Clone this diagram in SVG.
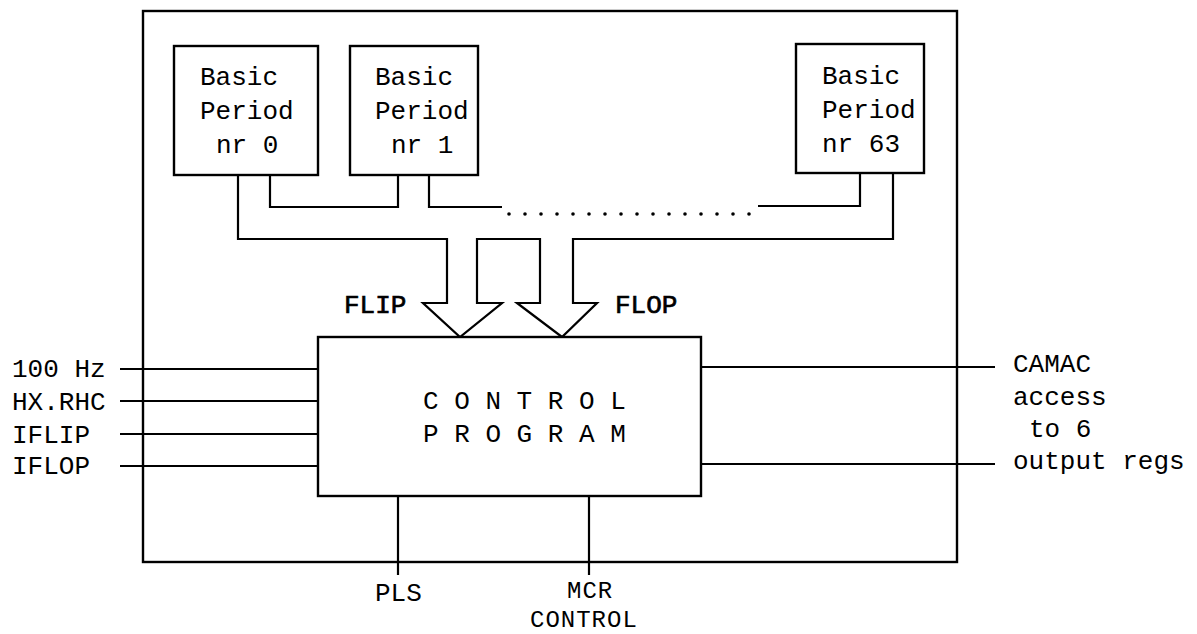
<svg xmlns="http://www.w3.org/2000/svg" width="1197" height="634" viewBox="0 0 1197 634">
<style>
.ln{fill:none;stroke:#000;stroke-width:2.2;stroke-linejoin:miter}
.bx{fill:#fff;stroke:#000;stroke-width:2.4}
text{font-family:"Liberation Mono","DejaVu Sans Mono",monospace;font-size:26px;fill:#000}
.b{stroke:#000;stroke-width:0.7}
.s{font-size:24px;letter-spacing:1px}
</style>
<rect width="1197" height="634" fill="#fff"/>
<g id="outer"><rect class="bx" x="143" y="11" width="814" height="551" fill="none"/></g>
<g id="connectors">
<path class="ln" d="M238,175 V239 H447 V303 H423 L460,337 L502,303 H477 V239 H540 V303 H517 L562,337 L597,303 H573 V239 H893 V173"/>
<path class="ln" d="M270,175 V207 H398 V175"/>
<path class="ln" d="M429,175 V207 H502"/>
<path class="ln" d="M758,206 H860 V173"/>
<g fill="#000">
<circle cx="509" cy="214" r="1.8"/><circle cx="525" cy="214" r="1.8"/><circle cx="541" cy="214" r="1.8"/><circle cx="557" cy="214" r="1.8"/><circle cx="573" cy="214" r="1.8"/><circle cx="589" cy="214" r="1.8"/><circle cx="605" cy="214" r="1.8"/><circle cx="621" cy="214" r="1.8"/><circle cx="637" cy="214" r="1.8"/><circle cx="653" cy="214" r="1.8"/><circle cx="669" cy="214" r="1.8"/><circle cx="685" cy="214" r="1.8"/><circle cx="701" cy="214" r="1.8"/><circle cx="717" cy="214" r="1.8"/><circle cx="733" cy="214" r="1.8"/><circle cx="749" cy="214" r="1.8"/>
</g>
<path class="ln" d="M120,369 H318 M120,401 H318 M120,434 H318 M120,466 H318"/>
<path class="ln" d="M701,367 H995 M701,464 H995"/>
<path class="ln" d="M398,496 V575 M589,496 V575"/>
</g>
<g id="bp0"><rect class="bx" x="174" y="46" width="144" height="129"/>
<text x="200" y="85">Basic</text><text x="200" y="119">Period</text><text x="216" y="153">nr 0</text></g>
<g id="bp1"><rect class="bx" x="350" y="46" width="128" height="129"/>
<text x="375" y="85">Basic</text><text x="375" y="119">Period</text><text x="391" y="153">nr 1</text></g>
<g id="bp63"><rect class="bx" x="796" y="44" width="128" height="129"/>
<text x="822" y="84">Basic</text><text x="822" y="118">Period</text><text x="822" y="152">nr 63</text></g>
<g id="control"><rect class="bx" x="318" y="337" width="383" height="159"/>
<text x="423" y="409" xml:space="preserve">C O N T R O L</text>
<text x="423" y="442" xml:space="preserve">P R O G R A M</text></g>
<g id="labels">
<text class="b" x="344" y="313">FLIP</text>
<text class="b" x="615" y="313">FLOP</text>
<text x="12" y="377">100 Hz</text>
<text x="12" y="410">HX.RHC</text>
<text x="12" y="443">IFLIP</text>
<text x="12" y="474">IFLOP</text>
<text x="1013" y="372">CAMAC</text>
<text x="1013" y="405">access</text>
<text x="1029" y="437">to 6</text>
<text x="1013" y="469">output regs</text>
<text x="375" y="601">PLS</text>
<text class="s" x="567" y="598">MCR</text>
<text class="s" x="530" y="627">CONTROL</text>
</g>
</svg>
